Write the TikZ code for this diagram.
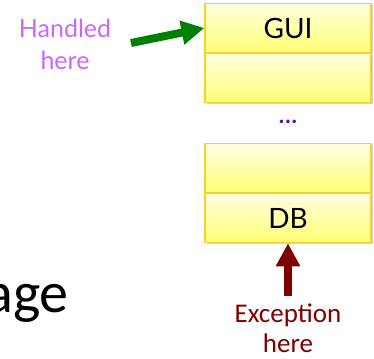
\documentclass[tikz,border=0pt]{standalone}
\usepackage{fontspec}
\setmainfont{Carlito}
\newfontfamily\gillfont{Lato}
\usetikzlibrary{positioning}
\usetikzlibrary{arrows.meta}
\usetikzlibrary{shadows}

\definecolor{layerline}{RGB}{245,210,40}
\definecolor{handledcol}{RGB}{204,102,255}
\definecolor{exccol}{RGB}{128,0,0}
\definecolor{okgreen}{RGB}{0,128,0}
\definecolor{dotscol}{RGB}{90,15,160}

\begin{document}
\begin{tikzpicture}
    [
    x=1pt,y=-1pt,
    layer/.style={rectangle,draw=layerline,line width=1.2pt,
      top color=yellow!12,bottom color=yellow!55,
      drop shadow={shadow xshift=1.5pt,shadow yshift=-1.5pt,opacity=0.35},
      minimum width=166pt,minimum height=49pt,inner sep=0pt,
      font=\gillfont\fontsize{28}{30}\selectfont},
    caption/.style={align=center,inner sep=1pt},
    fatarrow/.style={line width=8pt,-{Triangle[length=23pt,width=23pt]}},
    ]
    \useasboundingbox (0,0) rectangle (374,358);

    \node (gui) at (288,28) [layer] {GUI};
    \node (top2) [layer, below=0pt of gui] {};
    \node (dots) at (288,122) [text=dotscol,font=\bfseries\fontsize{24}{24}\selectfont] {...};
    \node (bot1) at (288,168) [layer] {};
    \node (db) [layer, below=0pt of bot1] {DB};

    \node (handled) at (65,44) [caption,text=handledcol,
      font=\gillfont\fontsize{25}{32}\selectfont] {Handled\\here};
    \node (exc) at (288,328) [caption,text=exccol,
      font=\fontsize{27}{30}\selectfont] {Exception\\here};
    \node (msg) at (69,312) [anchor=base east,inner sep=0pt,
      font=\fontsize{58}{60}\selectfont] {age};

    \coordinate (gtail) at (131,43);
    \draw [fatarrow, draw=okgreen, fill=okgreen] (gtail) to (gui.west);
    \draw [fatarrow, draw=exccol, fill=exccol, shorten <=6pt] (exc.north) to (db.south);
  \end{tikzpicture}
\end{document}
